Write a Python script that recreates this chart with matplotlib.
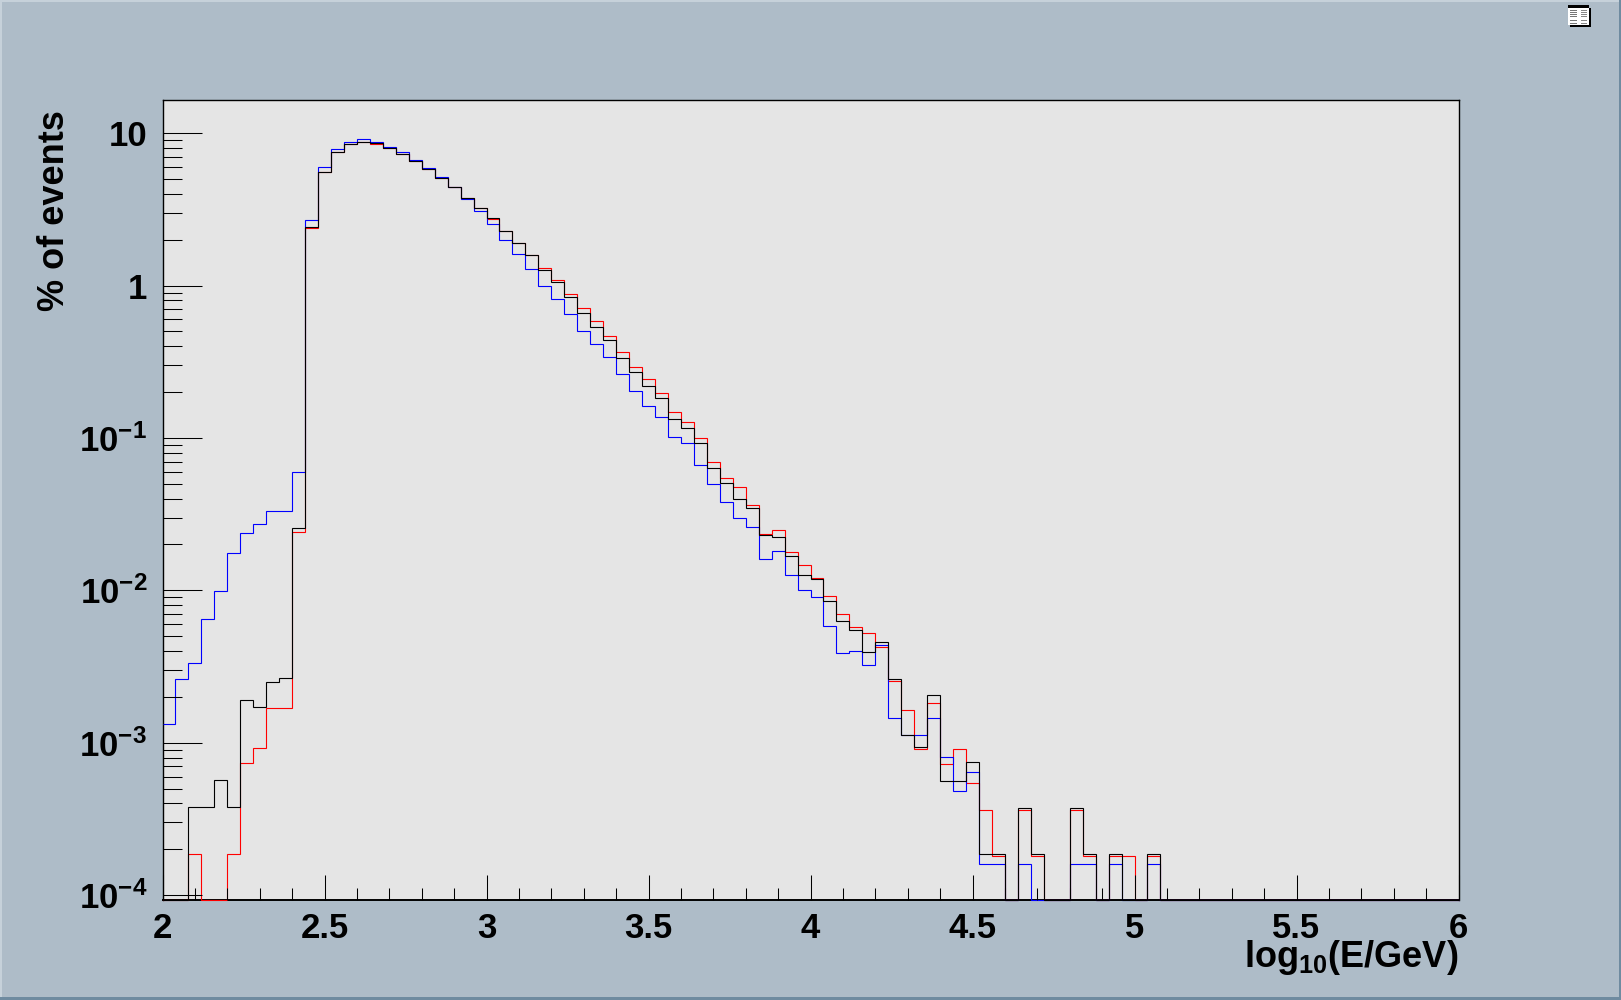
import matplotlib
matplotlib.use('Agg')
import matplotlib.pyplot as plt
from matplotlib.patches import Rectangle
from matplotlib.ticker import FixedLocator, NullFormatter
import numpy as np

WIDTH, HEIGHT = 1621, 1000
Y_MIN, Y_MAX = 9.3e-5, 16.5

plt.rcParams['font.family'] = ['Liberation Sans', 'DejaVu Sans']
plt.rcParams['font.weight'] = 'bold'
plt.rcParams['mathtext.fontset'] = 'custom'
plt.rcParams['mathtext.bf'] = 'Liberation Sans:bold'
plt.rcParams['mathtext.rm'] = 'Liberation Sans:bold'
plt.rcParams['mathtext.default'] = 'bf'

# 100 bins between log10(E/GeV) = 2 and 6, values in % of events
bin_edges = np.linspace(2, 6, 101)

red = [0, 0, 1.85e-4, 0, 0, 1.85e-4, 7.41e-4, 9.3e-4, 1.68e-3, 1.68e-3, .0240,
       2.38, 5.54, 7.50, 8.47, 8.72, 8.47, 7.97, 7.27, 6.54, 5.80, 5.06, 4.41, 3.77,
       3.21, 2.72, 2.27, 1.89, 1.58, 1.31, 1.08, .886, .717, .588, .469, .368, .293,
       .244, .198, .148, .127, .100, .0695, .0546, .0476, .0362, .0234, .0248, .0178,
       .0146, .0120, .00913, .00695, .00571, .00529, .00422, .00256, .00165, .000913,
       .00183, .000727, .000913, .000546, .000362, .000181, 0, .000362, .000181, 0, 0,
       .000362, .000181, 0, .000181, .000181, 0, .000181] + [0] * 23

blue = [1.32e-3, 2.64e-3, 3.32e-3, 6.45e-3, 9.85e-3, .0175, .0237, .0271, .033, .033, .0596,
        2.68, 5.97, 7.85, 8.81, 9.13, 8.72, 8.17, 7.50, 6.64, 5.88, 5.13, 4.41, 3.68,
        3.07, 2.52, 1.98, 1.60, 1.29, 1.00, .821, .654, .506, .415, .341, .264, .204,
        .162, .137, .1015, .0927, .0664, .0498, .0379, .0298, .0260, .0160, .0181, .0126,
        .0100, .0090, .00588, .00391, .00403, .00326, .00441, .00146, .00113, .00113,
        .00146, .000809, .000483, .000645, .00016, .00016, 0, .00016, 0, 0, 0,
        .00016, .00016, 0, .00016, 0, 0, .00016] + [0] * 23

black = [0, 0, 3.81e-4, 3.81e-4, 5.74e-4, 3.81e-4, 1.92e-3, 1.73e-3, 2.49e-3, 2.68e-3, .0255,
         2.42, 5.54, 7.50, 8.47, 8.72, 8.59, 7.97, 7.27, 6.54, 5.80, 5.06, 4.41, 3.74,
         3.21, 2.76, 2.27, 1.89, 1.58, 1.27, 1.06, .846, .664, .537, .441, .336, .272,
         .220, .183, .133, .116, .0927, .0635, .0506, .0397, .0346, .0230, .0223, .0167,
         .0127, .0118, .00847, .00625, .00546, .00397, .00455, .00264, .00113, .000941,
         .00207, .000562, .000562, .00075, .000186, .000186, 0, .000373, .000186, 0, 0,
         .000373, .000186, 0, .000186, 0, 0, .000186] + [0] * 23

x_major = [2, 2.5, 3, 3.5, 4, 4.5, 5, 5.5, 6]
x_labels = ['2', '2.5', '3', '3.5', '4', '4.5', '5', '5.5', '6']
y_major = [1e-4, 1e-3, 1e-2, 1e-1, 1, 10]
y_labels = ['$10^{-4}$', '$10^{-3}$', '$10^{-2}$', '$10^{-1}$', '1', '10']


def pixel_rect(fig, x, y, w, h, color):
    # x, y from the top left corner of the image, in pixels
    rect = Rectangle((x / WIDTH, 1 - (y + h) / HEIGHT), w / WIDTH, h / HEIGHT,
                     transform=fig.transFigure, facecolor=color, edgecolor='none')
    fig.add_artist(rect)


def draw_frame(fig):
    pixel_rect(fig, 0, 0, WIDTH, 2, '#c6d1da')
    pixel_rect(fig, 0, 0, 2, HEIGHT, '#c6d1da')
    pixel_rect(fig, WIDTH - 2, 0, 2, HEIGHT, '#6f8ba0')
    pixel_rect(fig, 0, HEIGHT - 3, WIDTH, 3, '#6f8ba0')


def draw_icon(fig):
    pixel_rect(fig, 1570, 8, 21, 19, 'black')
    pixel_rect(fig, 1568, 6, 21, 19, 'white')
    pixel_rect(fig, 1568, 5, 21, 3, 'black')
    for row in [10, 12, 14, 16, 20, 23]:
        pixel_rect(fig, 1570, row, 7, 1, '#777777')
        pixel_rect(fig, 1581, row, 6, 1, '#888888')


fig = plt.figure(figsize=(WIDTH / 100, HEIGHT / 100), dpi=100, facecolor='#aebcc8')
ax = fig.add_axes([162.5 / WIDTH, 1 - 900 / HEIGHT, (1458.5 - 162.5) / WIDTH, 800 / HEIGHT])
ax.set_facecolor('#e5e5e5')

for values, color in [(red, '#ff0000'), (blue, '#0000ff'), (black, '#000000')]:
    heights = np.maximum(np.array(values, dtype=float), Y_MIN)
    ax.stairs(heights, bin_edges, color=color, linewidth=0.8, baseline=None,
              clip_on=False, zorder=2)

ax.set_yscale('log')
ax.set_xlim(2, 6)
ax.set_ylim(Y_MIN, Y_MAX)
ax.set_axisbelow(False)

y_minor = [s * 10.0 ** e for e in range(-4, 1) for s in range(2, 10)]
ax.xaxis.set_major_locator(FixedLocator(x_major))
ax.xaxis.set_minor_locator(FixedLocator(np.arange(2, 6.01, 0.1)))
ax.yaxis.set_major_locator(FixedLocator(y_major))
ax.yaxis.set_minor_locator(FixedLocator(y_minor))
ax.set_xticklabels(x_labels)
ax.set_yticklabels(y_labels)
ax.yaxis.set_minor_formatter(NullFormatter())
ax.xaxis.set_minor_formatter(NullFormatter())

ax.tick_params(axis='x', which='major', direction='in', length=18, width=0.75,
               labelsize=25, pad=9)
ax.tick_params(axis='x', which='minor', direction='in', length=9, width=0.75)
ax.tick_params(axis='y', which='major', direction='in', length=28, width=0.75,
               labelsize=25, pad=11)
ax.tick_params(axis='y', which='minor', direction='in', length=14, width=0.75)

for side, spine in ax.spines.items():
    spine.set_linewidth(1.0)
    spine.set_zorder(1.5)
ax.spines['bottom'].set_linewidth(1.4)

fig.text(72 / WIDTH, 1 - 110 / HEIGHT, '% of events', rotation=90, fontsize=26,
         ha='right', va='top', fontweight='bold')
fig.text(1458 / WIDTH, 1 - 967 / HEIGHT, r'log$_{10}$(E/GeV)', fontsize=26,
         ha='right', va='baseline', fontweight='bold')

draw_frame(fig)
draw_icon(fig)

fig.savefig('out.png', dpi=100, facecolor=fig.get_facecolor())
